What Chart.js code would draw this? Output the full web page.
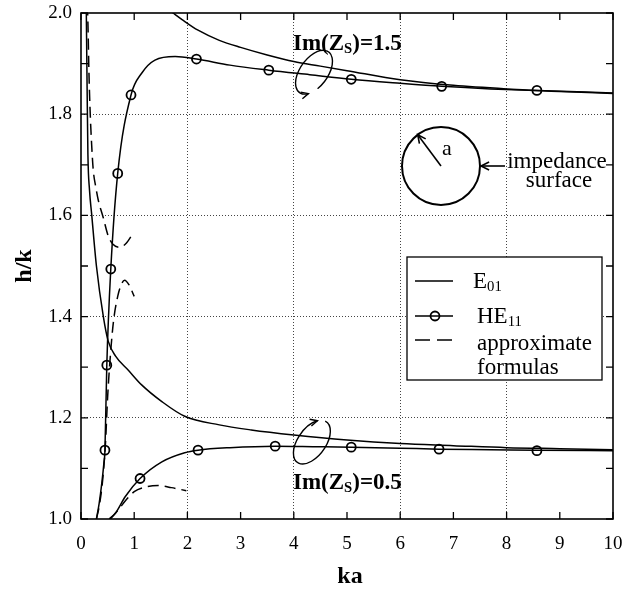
<!DOCTYPE html>
<html lang="en">
<head>
<meta charset="UTF-8">
<title>h/k versus ka</title>
<script src="https://cdn.jsdelivr.net/npm/chart.js"></script>
<style>
  html, body { margin: 0; padding: 0; background: #fff; }
</style>
</head>
<body>
<canvas id="chart" width="634" height="589"></canvas>
<script>
// ---- data ----
const e01HighKa = [1.5, 1.73, 1.9, 2.2, 2.6, 3.0, 3.5, 4.0, 4.5, 5.0, 6.0, 7.0, 8.0, 9.0, 10.0];
const e01HighH  = [2.018, 2.0, 1.987, 1.966, 1.946, 1.932, 1.917, 1.904, 1.895, 1.886, 1.868, 1.857, 1.85, 1.845, 1.841];

const he11HighKa = [0.29, 0.34, 0.39, 0.43, 0.45, 0.485, 0.56, 0.69, 0.94, 1.14, 1.39, 1.77, 2.17, 2.8, 3.53, 4.3, 5.08, 6.0, 6.78, 7.7, 8.57, 10.0];
const he11HighH  = [1.0, 1.03, 1.07, 1.11, 1.136, 1.304, 1.494, 1.683, 1.838, 1.881, 1.907, 1.914, 1.909, 1.897, 1.887, 1.878, 1.869, 1.861, 1.855, 1.85, 1.847, 1.842];
const he11HighMarkKa = [0.45, 0.485, 0.56, 0.69, 0.94, 2.17, 3.53, 5.08, 6.78, 8.57];
const he11HighMarkH  = [1.136, 1.304, 1.494, 1.683, 1.838, 1.909, 1.887, 1.869, 1.855, 1.847];

const e01LowKa = [0.095, 0.105, 0.115, 0.13, 0.16, 0.2, 0.29, 0.42, 0.51, 0.65, 0.89, 1.14, 1.52, 1.95, 2.6, 3.2, 4.0, 5.0, 6.0, 7.0, 8.0, 9.0, 10.0];
const e01LowH  = [2.05, 1.95, 1.85, 1.72, 1.65, 1.603, 1.5, 1.4, 1.352, 1.322, 1.294, 1.265, 1.232, 1.203, 1.186, 1.176, 1.166, 1.156, 1.149, 1.145, 1.141, 1.139, 1.137];

const he11LowKa = [0.53, 0.65, 0.83, 1.11, 1.52, 1.95, 2.2, 2.8, 3.65, 4.4, 5.08, 6.0, 6.73, 7.7, 8.57, 10.0];
const he11LowH  = [1.0, 1.012, 1.044, 1.08, 1.113, 1.131, 1.136, 1.141, 1.144, 1.143, 1.142, 1.14, 1.138, 1.137, 1.136, 1.135];
const he11LowMarkKa = [1.11, 2.2, 3.65, 5.08, 6.73, 8.57];
const he11LowMarkH  = [1.08, 1.136, 1.144, 1.142, 1.138, 1.135];

// approximate formulas (dashed)
const approxAKa = [0.11, 0.13, 0.15, 0.17, 0.2, 0.23, 0.28, 0.325, 0.42, 0.51, 0.6, 0.73, 0.85, 0.98];
const approxAH  = [2.05, 1.98, 1.88, 1.81, 1.74, 1.69, 1.655, 1.63, 1.595, 1.56, 1.543, 1.537, 1.545, 1.565];
const approxBKa = [0.29, 0.35, 0.41, 0.46, 0.5, 0.55, 0.61, 0.69, 0.76, 0.82, 0.9, 1.0];
const approxBH  = [1.0, 1.03, 1.08, 1.15, 1.24, 1.32, 1.39, 1.44, 1.464, 1.472, 1.463, 1.44];
const approxCKa = [0.55, 0.7, 0.85, 1.0, 1.2, 1.45, 1.7, 1.98];
const approxCH  = [1.0, 1.018, 1.038, 1.054, 1.063, 1.066, 1.062, 1.056];

const xMin = 0, xMax = 10, yMin = 1.0, yMax = 2.0;

function pts(xs, ys) {
  return xs.map((v, i) => ({ x: v, y: ys[i] }));
}

const SERIF = '"Liberation Serif", "DejaVu Serif", serif';

function solid(xs, ys) {
  return { data: pts(xs, ys), borderColor: '#000', borderWidth: 1.5, pointRadius: 0,
           cubicInterpolationMode: 'monotone', fill: false };
}
function dashed(xs, ys) {
  return { data: pts(xs, ys), borderColor: '#000', borderWidth: 1.5, pointRadius: 0,
           borderDash: [11, 6], cubicInterpolationMode: 'monotone', fill: false };
}
function markers(xs, ys) {
  return { data: pts(xs, ys), showLine: false, pointStyle: 'circle', pointRadius: 4.5,
           pointBorderWidth: 1.8, pointBorderColor: '#000', pointBackgroundColor: 'rgba(0,0,0,0)' };
}

function arrowHead(ctx, x, y, ang, len) {
  ctx.beginPath();
  ctx.moveTo(x - len * Math.cos(ang - 0.45), y - len * Math.sin(ang - 0.45));
  ctx.lineTo(x, y);
  ctx.lineTo(x - len * Math.cos(ang + 0.45), y - len * Math.sin(ang + 0.45));
  ctx.stroke();
}

function loopArrow(ctx, cx, cy, end, ccw) {
  const rx = 25, ry = 14, rot = -0.95;
  const start = ccw ? end + 2 * Math.PI - 0.5 : end - 2 * Math.PI + 0.5;
  ctx.beginPath();
  ctx.ellipse(cx, cy, rx, ry, rot, start, end, ccw);
  ctx.stroke();
  const ex = rx * Math.cos(end), ey = ry * Math.sin(end);
  const tx = cx + ex * Math.cos(rot) - ey * Math.sin(rot);
  const ty = cy + ex * Math.sin(rot) + ey * Math.cos(rot);
  let dx = -rx * Math.sin(end), dy = ry * Math.cos(end);
  if (ccw) { dx = -dx; dy = -dy; }
  const ddx = dx * Math.cos(rot) - dy * Math.sin(rot);
  const ddy = dx * Math.sin(rot) + dy * Math.cos(rot);
  arrowHead(ctx, tx, ty, Math.atan2(ddy, ddx), 8);
}

// text with a subscript part
function subText(ctx, x, y, parts, size, bold) {
  const w = bold ? 'bold ' : '';
  let cx = x;
  parts.forEach(p => {
    const s = p.sub ? size * 0.64 : size;
    ctx.font = w + s + 'px ' + SERIF;
    ctx.fillText(p.t, cx, p.sub ? y + size * 0.14 : y);
    cx += ctx.measureText(p.t).width;
  });
}

const extras = {
  id: 'extras',
  afterDraw(chart) {
    const ctx = chart.ctx, a = chart.chartArea;
    const xs = chart.scales.x, ys = chart.scales.y;
    ctx.save();
    ctx.strokeStyle = '#000';
    ctx.fillStyle = '#000';
    ctx.setLineDash([]);

    // frame
    ctx.lineWidth = 1.6;
    ctx.strokeRect(a.left, a.top, a.right - a.left, a.bottom - a.top);

    // inward ticks on all four sides
    ctx.lineWidth = 1.3;
    ctx.beginPath();
    xs.ticks.forEach(t => {
      const p = xs.getPixelForValue(t.value);
      ctx.moveTo(p, a.bottom); ctx.lineTo(p, a.bottom - 7);
      ctx.moveTo(p, a.top); ctx.lineTo(p, a.top + 7);
    });
    ys.ticks.forEach(t => {
      const p = ys.getPixelForValue(t.value);
      ctx.moveTo(a.left, p); ctx.lineTo(a.left + 7, p);
      ctx.moveTo(a.right, p); ctx.lineTo(a.right - 7, p);
    });
    ctx.stroke();

    // axis titles
    ctx.font = 'bold 24px ' + SERIF;
    ctx.textAlign = 'center';
    ctx.textBaseline = 'alphabetic';
    ctx.fillText('ka', (a.left + a.right) / 2 + 3, 583);
    ctx.save();
    ctx.translate(31, 266);
    ctx.rotate(-Math.PI / 2);
    ctx.fillText('h/k', 0, 0);
    ctx.restore();

    // legend box
    const lx = a.left + 326, ly = a.top + 244, lw = 195, lh = 123;
    ctx.fillStyle = '#fff';
    ctx.fillRect(lx, ly, lw, lh);
    ctx.fillStyle = '#000';
    ctx.lineWidth = 1.3;
    ctx.strokeRect(lx, ly, lw, lh);
    ctx.lineWidth = 1.5;
    ctx.beginPath();
    ctx.moveTo(lx + 8, ly + 24); ctx.lineTo(lx + 46, ly + 24);
    ctx.moveTo(lx + 8, ly + 59); ctx.lineTo(lx + 46, ly + 59);
    ctx.stroke();
    ctx.lineWidth = 1.8;
    ctx.beginPath();
    ctx.arc(lx + 28, ly + 59, 4.5, 0, 2 * Math.PI);
    ctx.stroke();
    ctx.lineWidth = 1.5;
    ctx.setLineDash([15, 7]);
    ctx.beginPath();
    ctx.moveTo(lx + 8, ly + 83); ctx.lineTo(lx + 46, ly + 83);
    ctx.stroke();
    ctx.setLineDash([]);
    ctx.textAlign = 'left';
    subText(ctx, lx + 66, ly + 31, [{ t: 'E' }, { t: '01', sub: true }], 23, false);
    subText(ctx, lx + 70, ly + 66, [{ t: 'HE' }, { t: '11', sub: true }], 23, false);
    ctx.font = '23px ' + SERIF;
    ctx.fillText('approximate', lx + 70, ly + 93);
    ctx.fillText('formulas', lx + 70, ly + 117);

    // curve labels and loops
    subText(ctx, a.left + 212, a.top + 37, [{ t: 'Im(Z' }, { t: 'S', sub: true }, { t: ')=1.5' }], 23, true);
    subText(ctx, a.left + 212, a.top + 476, [{ t: 'Im(Z' }, { t: 'S', sub: true }, { t: ')=0.5' }], 23, true);
    ctx.lineWidth = 1.4;
    loopArrow(ctx, xs.getPixelForValue(4.38), ys.getPixelForValue(1.883), Math.PI - 0.6, true);
    loopArrow(ctx, xs.getPixelForValue(4.34), ys.getPixelForValue(1.152), -0.6, false);

    // cross-section sketch
    const cx = a.left + 360, cy = a.top + 153, r = 39;
    ctx.lineWidth = 2;
    ctx.beginPath();
    ctx.arc(cx, cy, r, 0, 2 * Math.PI);
    ctx.stroke();
    const ang = -2.21;
    const tx = cx + r * Math.cos(ang), ty = cy + r * Math.sin(ang);
    ctx.lineWidth = 1.6;
    ctx.beginPath();
    ctx.moveTo(cx, cy); ctx.lineTo(tx, ty);
    ctx.stroke();
    arrowHead(ctx, tx, ty, ang, 9);
    ctx.beginPath();
    ctx.moveTo(cx + r + 25, cy); ctx.lineTo(cx + r + 1, cy);
    ctx.stroke();
    arrowHead(ctx, cx + r + 1, cy, Math.PI, 9);
    ctx.font = '22px ' + SERIF;
    ctx.textAlign = 'left';
    ctx.fillText('a', cx + 1, cy - 11);
    ctx.font = '23px ' + SERIF;
    ctx.textAlign = 'center';
    ctx.fillText('impedance', cx + 116, cy + 2);
    ctx.fillText('surface', cx + 118, cy + 21);

    ctx.restore();
  }
};

new Chart(document.getElementById('chart'), {
  type: 'line',
  data: {
    datasets: [
      solid(e01HighKa, e01HighH),
      solid(he11HighKa, he11HighH),
      solid(e01LowKa, e01LowH),
      solid(he11LowKa, he11LowH),
      dashed(approxAKa, approxAH),
      dashed(approxBKa, approxBH),
      dashed(approxCKa, approxCH),
      markers(he11HighMarkKa, he11HighMarkH),
      markers(he11LowMarkKa, he11LowMarkH)
    ]
  },
  options: {
    responsive: false,
    animation: false,
    events: [],
    layout: { padding: { top: 13, right: 21, left: 0, bottom: 0 } },
    plugins: { legend: { display: false }, tooltip: { enabled: false } },
    scales: {
      x: {
        type: 'linear', min: xMin, max: xMax,
        afterFit: s => { s.height = 70; s.paddingLeft = 0; s.paddingRight = 0; },
        ticks: { stepSize: 1, color: '#000', padding: 14, font: { family: SERIF, size: 19 } },
        grid: {
          drawTicks: false, lineWidth: 1,
          color: c => [2, 4, 6, 8].includes(Math.round(c.tick.value)) ? '#444' : 'rgba(0,0,0,0)'
        },
        border: { display: false, dash: [1, 2] }
      },
      y: {
        type: 'linear', min: yMin, max: yMax,
        afterFit: s => { s.width = 81; s.paddingTop = 0; s.paddingBottom = 0; },
        ticks: {
          stepSize: 0.1, autoSkip: false, color: '#000', padding: 9,
          font: { family: SERIF, size: 19 },
          callback: v => Math.round(v * 10) % 2 === 0 ? v.toFixed(1) : ''
        },
        grid: {
          drawTicks: false, lineWidth: 1,
          color: c => [12, 14, 16, 18].includes(Math.round(c.tick.value * 10)) ? '#444' : 'rgba(0,0,0,0)'
        },
        border: { display: false, dash: [1, 2] }
      }
    }
  },
  plugins: [extras]
});
</script>
</body>
</html>
